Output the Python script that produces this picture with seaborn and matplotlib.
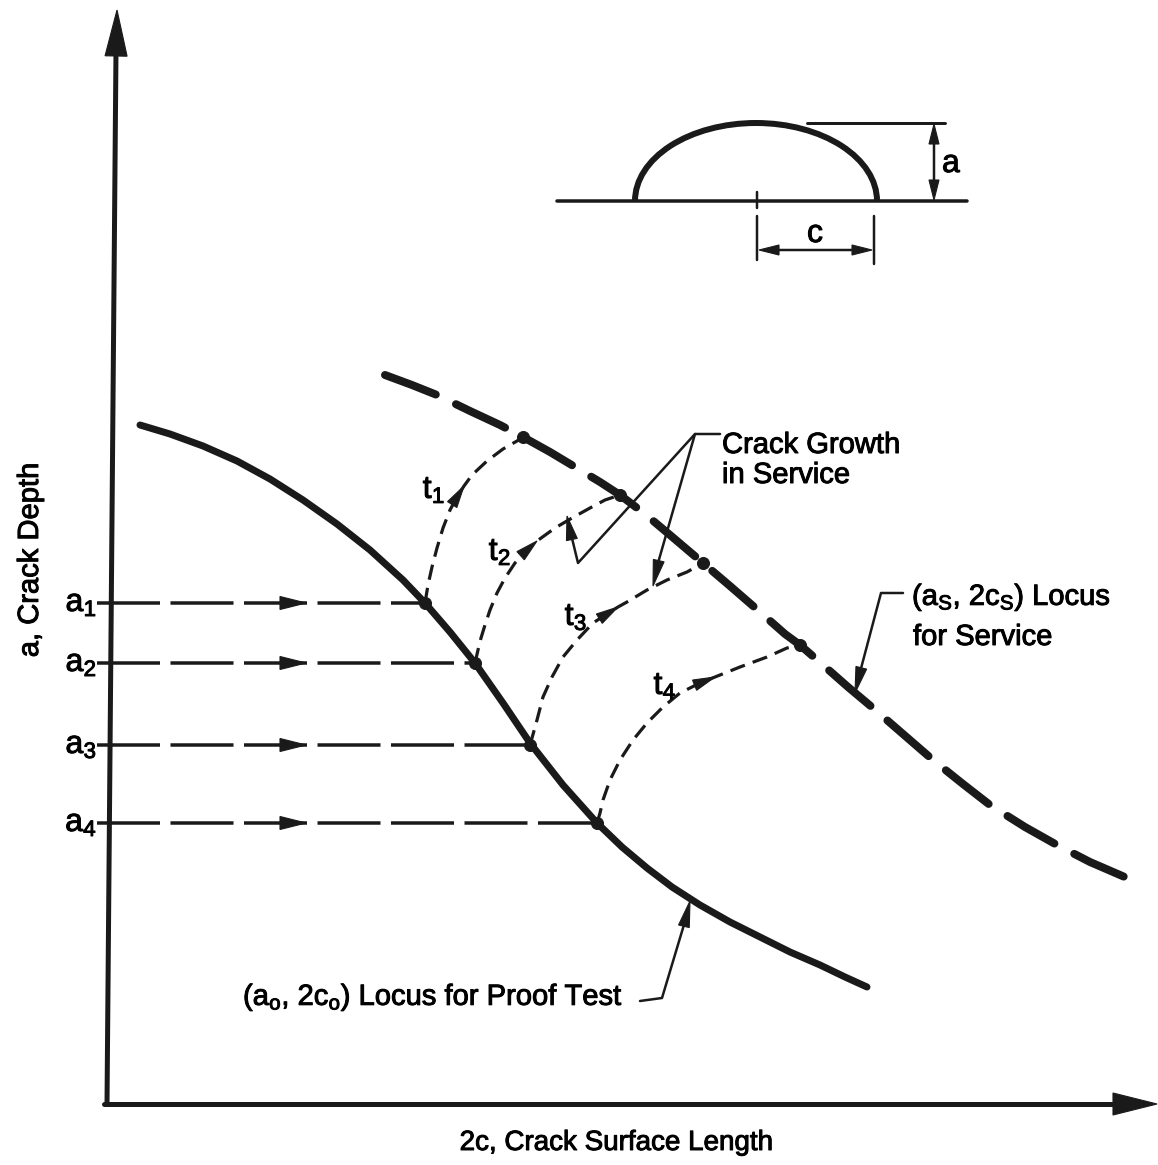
import numpy as np
import pandas as pd
import matplotlib
matplotlib.use("Agg")
import matplotlib.pyplot as plt
import matplotlib.patheffects as pe
from matplotlib.patches import Polygon, Arc
import seaborn as sns

# ---------------- data (pixel space) ----------------
proof_x = [140, 170, 203, 237, 270, 303, 337, 370, 403, 425, 450, 475, 503, 530, 563, 597,
           622, 647, 672, 700, 730, 760, 790, 820, 845, 867]
proof_y = [425, 434, 446, 461, 479, 500, 524, 550, 580, 603, 632, 663, 703, 743, 785, 823,
           847, 868, 887, 905, 922, 937, 952, 965, 977, 987]

service_x = [385, 412, 437, 470, 500, 523, 550, 575, 600, 620, 645, 670, 703, 730, 760, 785,
             800, 823, 848, 873, 903, 933, 963, 990, 1025, 1057, 1090, 1127]
service_y = [375, 385, 395, 411, 425, 437, 452, 467, 482, 495, 514, 535, 563, 586, 612, 634,
             645, 665, 687, 708, 734, 760, 784, 805, 827, 845, 862, 878]

t1_x = [425, 428, 432, 437, 443, 450, 457, 464, 472, 487, 503, 517, 523]
t1_y = [603, 585, 567, 548, 528, 510, 497, 486, 475, 461, 449, 441, 437]
t2_x = [475, 478, 481, 485, 490, 497, 505, 515, 527, 537, 555, 572, 590, 605, 620]
t2_y = [663, 650, 638, 625, 610, 593, 578, 563, 550, 541, 528, 518, 508, 500, 495]
t3_x = [530, 532, 537, 543, 552, 563, 577, 593, 610, 618, 627, 647, 667, 687, 703]
t3_y = [745, 738, 720, 697, 677, 657, 640, 623, 612, 607, 602, 590, 580, 572, 563]
t4_x = [597, 600, 603, 610, 620, 633, 647, 663, 680, 700, 715, 740, 767, 787, 800]
t4_y = [823, 813, 800, 780, 760, 740, 723, 707, 693, 683, 677, 667, 657, 648, 645]

depth_labels = ["a$_1$", "a$_2$", "a$_3$", "a$_4$"]
depth_y = [603, 663, 745, 823]
proof_pts_x = [425, 475, 530, 597]
service_pts_x = [523, 620, 703, 800]
service_pts_y = [437, 495, 563, 645]

time_labels = ["t$_1$", "t$_2$", "t$_3$", "t$_4$"]
time_label_x = [434, 500, 576, 665]
time_label_y = [490, 552, 617, 686]
time_arrow_idx = [7, 9, 9, 10]

# ---------------- style ----------------
sns.set_theme(style="white")
plt.rcParams["font.family"] = ["Liberation Sans", "DejaVu Sans"]
plt.rcParams["mathtext.default"] = "regular"
plt.rcParams["text.color"] = "black"
FS = 21
PX = 0.72  # px -> pt at dpi 100
BOLD = [pe.withStroke(linewidth=0.7, foreground="black")]

fig = plt.figure(figsize=(11.58, 11.65), dpi=100)
ax = fig.add_axes([0, 0, 1, 1])
ax.set_xlim(0, 1158)
ax.set_ylim(1165, 0)
ax.axis("off")


def head(tip, frm, length, width, z=6):
    tip = np.asarray(tip, float)
    frm = np.asarray(frm, float)
    d = tip - frm
    d /= np.hypot(*d)
    n = np.array([-d[1], d[0]])
    base = tip - d * length
    ax.add_patch(Polygon([tip, base + n * width / 2, base - n * width / 2],
                         closed=True, fc="k", ec="k", lw=0.8, zorder=z))


def seg(xs, ys, lw_px, z=4):
    ax.plot(xs, ys, color="k", lw=lw_px * PX, solid_capstyle="round",
            solid_joinstyle="round", zorder=z)


def txt(x, y, s, **kw):
    kw.setdefault("fontsize", FS)
    ax.text(x, y, s, path_effects=BOLD, **kw)


# ---------------- axes arrows ----------------
seg([107, 116], [1104, 50], 5)
head((117, 10), (116, 60), 46, 22)
seg([104, 1120], [1104, 1104], 5)
head((1157, 1104), (1100, 1104), 44, 22)

# ---------------- curves ----------------
sns.lineplot(x=proof_x, y=proof_y, sort=False, estimator=None, ax=ax, color="k",
             lw=7 * PX, solid_capstyle="round", solid_joinstyle="round", zorder=4)
sns.lineplot(x=service_x, y=service_y, sort=False, estimator=None, ax=ax, color="k",
             lw=8 * PX, linestyle=(0, (6.8, 2.8)), dash_capstyle="round",
             dash_joinstyle="round", zorder=4)

for cx, cy in [(t1_x, t1_y), (t2_x, t2_y), (t3_x, t3_y), (t4_x, t4_y)]:
    sns.lineplot(x=cx, y=cy, sort=False, estimator=None, ax=ax, color="k",
                 lw=3.2 * PX, linestyle=(0, (4.8, 2.6)), zorder=3)

for cx, cy, idx in zip([t1_x, t2_x, t3_x, t4_x], [t1_y, t2_y, t3_y, t4_y], time_arrow_idx):
    head((cx[idx], cy[idx]), (cx[idx - 1], cy[idx - 1]), 22, 11)

for lab, lx, ly in zip(time_labels, time_label_x, time_label_y):
    txt(lx, ly, lab, fontsize=FS + 2, ha="center", va="center")

# horizontal a_i lines
for lab, yy, xx in zip(depth_labels, depth_y, proof_pts_x):
    sns.lineplot(x=[97, xx], y=[yy, yy], ax=ax, color="k", lw=3.5 * PX,
                 linestyle=(0, (18, 3.0)), zorder=3)
    head((306, yy), (280, yy), 26, 13)
    txt(97, yy + 8, lab, fontsize=FS + 2, ha="right", va="baseline")

# intersection dots
sns.scatterplot(x=proof_pts_x, y=depth_y, ax=ax, color="k", s=75, edgecolor="k", zorder=7)
sns.scatterplot(x=service_pts_x, y=service_pts_y, ax=ax, color="k", s=75, edgecolor="k", zorder=7)

# ---------------- annotations ----------------
seg([720, 695, 578, 570], [434, 434, 563, 530], 2.5)
head((567, 516), (573, 545), 24, 11)
seg([695, 656], [434, 570], 2.5)
head((653, 586), (660, 555), 26, 11)
txt(722, 453, "Crack Growth", ha="left", va="baseline")
txt(722, 483, "in Service", ha="left", va="baseline")

seg([903, 881, 859], [593, 593, 676], 2.5)
head((855, 693), (862, 665), 26, 11)
txt(912, 605, "(a$_S$, 2c$_S$) Locus", ha="left", va="baseline")
txt(913, 645, "for Service", ha="left", va="baseline")

seg([640, 662, 686], [1001, 998, 918], 2.5)
head((690, 901), (683, 930), 26, 11)
txt(243, 1005, "(a$_o$, 2c$_o$) Locus for Proof Test", ha="left", va="baseline")

# ---------------- inset crack sketch ----------------
seg([557, 967], [201, 201], 3.5)
ax.add_patch(Arc((756, 201), 242, 156, theta1=180, theta2=360, color="k", lw=6 * PX, zorder=4))
seg([757, 757], [192, 208], 2.5)
seg([807, 945], [123, 123], 3)
seg([934, 934], [140, 184], 2.5)
head((934, 124), (934, 150), 20, 10)
head((934, 200), (934, 175), 20, 10)
txt(942, 172, "a", fontsize=FS + 2, ha="left", va="baseline")
seg([757, 757], [216, 260], 2.5)
seg([874, 874], [216, 264], 2.5)
seg([775, 856], [250, 250], 2.5)
head((759, 250), (785, 250), 20, 10)
head((872, 250), (845, 250), 20, 10)
txt(815, 242, "c", fontsize=FS + 2, ha="center", va="baseline")

# ---------------- axis titles ----------------
txt(30, 560, "a, Crack Depth", fontsize=21, rotation=90, ha="center", va="center")
txt(616, 1143, "2c, Crack Surface Length", fontsize=20, ha="center", va="center")

fig.savefig("out.png", dpi=100, facecolor="white")
